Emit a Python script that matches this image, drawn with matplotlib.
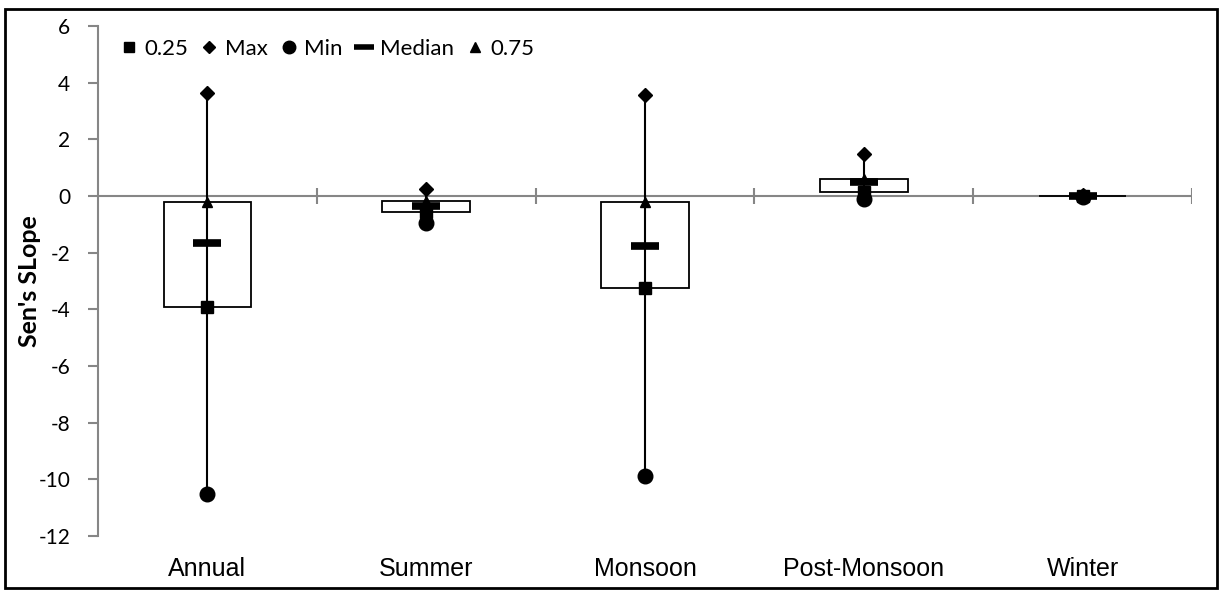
import numpy as np
import matplotlib
matplotlib.use('Agg')
import matplotlib.pyplot as plt
from matplotlib.lines import Line2D
from matplotlib.patches import Rectangle

plt.rcParams['axes.unicode_minus'] = False

# Sen's slope summary per season
seasons = ['Annual', 'Summer', 'Monsoon', 'Post-Monsoon', 'Winter']
q1 = [-3.90, -0.55, -3.24, 0.15, -0.01]
q3 = [-0.22, -0.18, -0.20, 0.60, 0.01]
median = [-1.65, -0.34, -1.78, 0.50, 0.00]
smin = [-10.53, -0.95, -9.89, -0.12, -0.03]
smax = [3.65, 0.25, 3.57, 1.47, 0.04]

grey = '#868686'
txt_font = 'Lato'
cat_font = 'Liberation Sans'

fig = plt.figure(figsize=(12.22, 5.92), dpi=100)
ax = fig.add_axes([98/1222, 1-536/592, 1094/1222, 510/592])
x = np.arange(len(seasons))

# up/down bars between the quartiles
ax.bar(x, np.array(q3)-np.array(q1), bottom=q1, width=0.4, color='white',
       edgecolor='black', linewidth=1.3, zorder=3)
# high-low lines
ax.vlines(x, smin, smax, color='black', linewidth=1.5, zorder=4)

kw = dict(linestyle='none', color='black', zorder=5)
ax.plot(x, q1, marker='s', ms=8, **kw)
ax.plot(x, smax, marker='D', ms=7.5, **kw)
ax.plot(x, smin, marker='o', ms=10.5, **kw)
ax.plot(x, median, marker='_', ms=20, mew=5.5, **kw)
ax.plot(x, q3, marker='^', ms=7.5, **kw)

# category axis crossing at zero
ax.axhline(0, color=grey, linewidth=1.5, zorder=1)
bounds = np.arange(len(seasons)+1) - 0.5
ax.vlines(bounds[1:], -0.27, 0.27, color=grey, linewidth=1.5, zorder=1)

ax.set_xlim(-0.5, len(seasons)-0.5)
ax.set_ylim(-12, 6)
ax.set_yticks(np.arange(-12, 7, 2))
ax.set_xticks(x)
ax.set_xticklabels(seasons, fontfamily=cat_font, fontsize=18)
ax.tick_params(axis='x', length=0, pad=15)
ax.tick_params(axis='y', length=7, width=1.5, color=grey, pad=13, labelsize=15)
for lab in ax.get_yticklabels():
    lab.set_fontfamily(txt_font)
for s in ['top', 'right', 'bottom']:
    ax.spines[s].set_visible(False)
ax.spines['left'].set_color(grey)
ax.spines['left'].set_linewidth(1.5)

ax.set_ylabel("Sen's SLope", fontfamily=txt_font, fontweight='bold', fontsize=18)
ax.yaxis.set_label_coords(-0.052, 0.5)

handles = [
    Line2D([], [], marker='s', ms=7, **kw),
    Line2D([], [], marker='D', ms=6.5, **kw),
    Line2D([], [], marker='o', ms=9, **kw),
    Line2D([], [], marker='_', ms=15, mew=4, **kw),
    Line2D([], [], marker='^', ms=7, **kw),
]
labels = ['0.25', 'Max', 'Min', 'Median', '0.75']
ax.legend(handles, labels, loc='upper left', bbox_to_anchor=(0.018, 0.975),
          ncol=5, frameon=False, handlelength=1.0, handletextpad=0.2,
          columnspacing=0.45, borderaxespad=0, borderpad=0,
          prop={'family': txt_font, 'size': 16})

# chart area border
fig.patches.append(Rectangle((5/1222, 4/592), 1212/1222, 579/592,
                             transform=fig.transFigure, fill=False,
                             edgecolor='black', linewidth=2))

fig.savefig('out.png', dpi=100)
